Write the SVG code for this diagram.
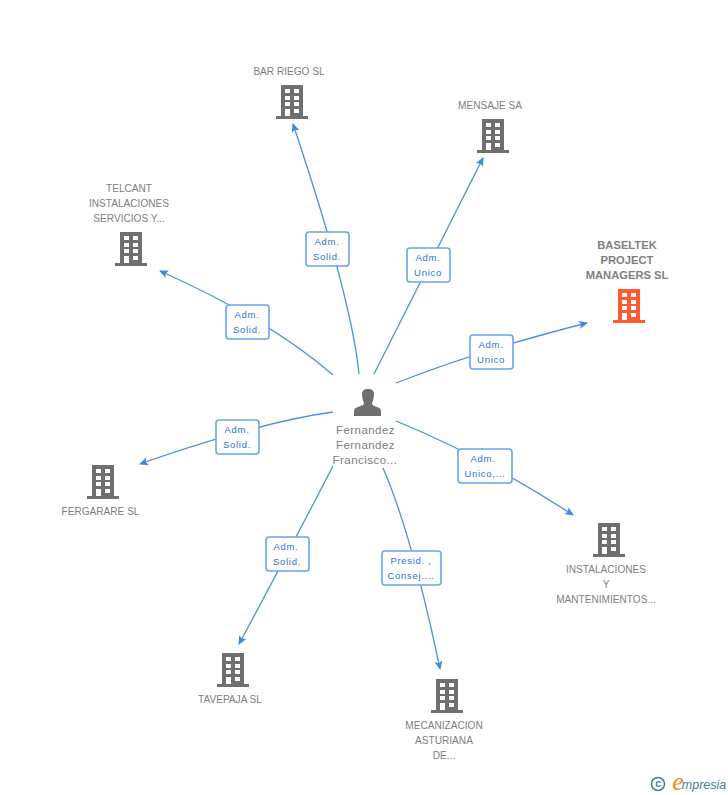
<svg xmlns="http://www.w3.org/2000/svg" width="728" height="795" viewBox="0 0 728 795">
<style>
text{font-family:"Liberation Sans",Arial,sans-serif;text-anchor:middle}
.n{font-size:10.1px;fill:#808080}
.p{font-size:11.5px;fill:#808080;letter-spacing:.45px}
.h{font-size:11.2px;font-weight:bold;fill:#808080}
.l{font-size:9.5px;fill:#2a74e0;letter-spacing:.7px}
.b{fill:#fff;stroke:#6ba3ea;stroke-width:1.6}
.c{fill:none;stroke:#4c8fe8;stroke-width:1.3;marker-end:url(#a)}
</style>
<defs>
<marker id="a" markerUnits="userSpaceOnUse" markerWidth="12" markerHeight="12" refX="8" refY="5" orient="auto"><path d="M0 1L9 5L0 9L2 5Z" fill="#3f86e6"/></marker>
<symbol id="bd" viewBox="0 0 32 34" width="32" height="34" overflow="visible"><path fill-rule="evenodd" d="M5 0H27V31H32V34H0V31H5ZM9 4V8H14V4ZM18 4V8H23V4ZM9 11V15H14V11ZM18 11V15H23V11ZM9 17V21H14V17ZM18 17V21H23V17ZM18 24V28H23V24ZM9 24V31H14V24Z"/></symbol>
</defs>
<g id="connectors">
<path class="c" d="M359 374Q352 300 293 124"/>
<path class="c" d="M374 374L483 158"/>
<path class="c" d="M396 383Q480 350 587 323"/>
<path class="c" d="M333 375Q270 320 160 271"/>
<path class="c" d="M333 412Q260 422 140 464"/>
<path class="c" d="M333 466Q289 551 239 644"/>
<path class="c" d="M383 468Q412 535 440 669"/>
<path class="c" d="M396 421Q480 455 573 515"/>
</g>
<g id="label1"><rect class="b" x="306" y="232" width="43" height="34" rx="3"/><text class="l" x="327" y="245">Adm.</text><text class="l" x="327" y="260">Solid.</text></g>
<g id="label2"><rect class="b" x="407" y="248" width="43" height="34" rx="3"/><text class="l" x="428" y="261">Adm.</text><text class="l" x="428" y="276">Unico</text></g>
<g id="label3"><rect class="b" x="470" y="335" width="43" height="34" rx="3"/><text class="l" x="491" y="348">Adm.</text><text class="l" x="491" y="363">Unico</text></g>
<g id="label4"><rect class="b" x="226" y="305" width="43" height="34" rx="3"/><text class="l" x="247" y="318">Adm.</text><text class="l" x="247" y="333">Solid.</text></g>
<g id="label5"><rect class="b" x="216" y="420" width="43" height="34" rx="3"/><text class="l" x="237" y="433">Adm.</text><text class="l" x="237" y="448">Solid.</text></g>
<g id="label6"><rect class="b" x="458" y="449" width="54" height="34" rx="3"/><text class="l" x="483" y="462">Adm.</text><text class="l" x="485" y="477">Unico,...</text></g>
<g id="label7"><rect class="b" x="266" y="537" width="43" height="34" rx="3"/><text class="l" x="286" y="550">Adm.</text><text class="l" x="287" y="565">Solid.</text></g>
<g id="label8"><rect class="b" x="382" y="551" width="59" height="34" rx="3"/><text class="l" x="411" y="564">Presid. ,</text><text class="l" x="411" y="579">Consej....</text></g>
<g id="person"><path fill="#6f6f6f" d="M362 394C362 391 364 389 368 389C372 389 374 391 374 394C374 398 373 401 372 403C372 405 374 406 377 407C380 408 381 409 381 412V416H354V412C354 409 355 408 358 407C361 406 364 405 364 403C363 401 362 398 362 394Z"/><text class="p" x="365.500" y="434">Fernandez</text><text class="p" x="365.500" y="449">Fernandez</text><text class="p" x="365" y="464">Francisco...</text></g>
<g id="bar-riego" fill="#6f6f6f"><use href="#bd" x="276" y="85"/><text class="n" x="289" y="75">BAR RIEGO SL</text></g>
<g id="mensaje" fill="#6f6f6f"><use href="#bd" x="477" y="119"/><text class="n" x="490" y="109">MENSAJE SA</text></g>
<g id="baseltek" fill="#ff5a30"><use href="#bd" x="613" y="289"/><text class="h" x="627" y="249">BASELTEK</text><text class="h" x="627" y="264">PROJECT</text><text class="h" x="627" y="279">MANAGERS SL</text></g>
<g id="telcant" fill="#6f6f6f"><use href="#bd" x="115" y="232"/><text class="n" x="129" y="192">TELCANT</text><text class="n" x="129" y="207">INSTALACIONES</text><text class="n" x="129" y="222">SERVICIOS Y...</text></g>
<g id="fergarare" fill="#6f6f6f"><use href="#bd" x="87" y="465"/><text class="n" x="100.500" y="515">FERGARARE SL</text></g>
<g id="tavepaja" fill="#6f6f6f"><use href="#bd" x="217" y="653"/><text class="n" x="230" y="703">TAVEPAJA SL</text></g>
<g id="mecanizacion" fill="#6f6f6f"><use href="#bd" x="431" y="679"/><text class="n" x="444" y="729">MECANIZACION</text><text class="n" x="444" y="744">ASTURIANA</text><text class="n" x="444" y="759">DE...</text></g>
<g id="instalaciones" fill="#6f6f6f"><use href="#bd" x="593" y="523"/><text class="n" x="606" y="573">INSTALACIONES</text><text class="n" x="606" y="588">Y</text><text class="n" x="606" y="603">MANTENIMIENTOS...</text></g>
<g id="logo"><circle cx="658" cy="784" r="6.500" fill="none" stroke="#3f7f94" stroke-width="1.6"/><text x="658" y="787" style="font-size:10px;font-weight:bold;fill:#3f7f94">c</text><text x="678" y="790" style="font-family:'Liberation Serif',serif;font-size:26px;font-style:italic;fill:#f08a1d">e</text><text x="704" y="789" style="font-size:12.500px;font-style:italic;fill:#3f7f94">mpresia</text></g>
</svg>
